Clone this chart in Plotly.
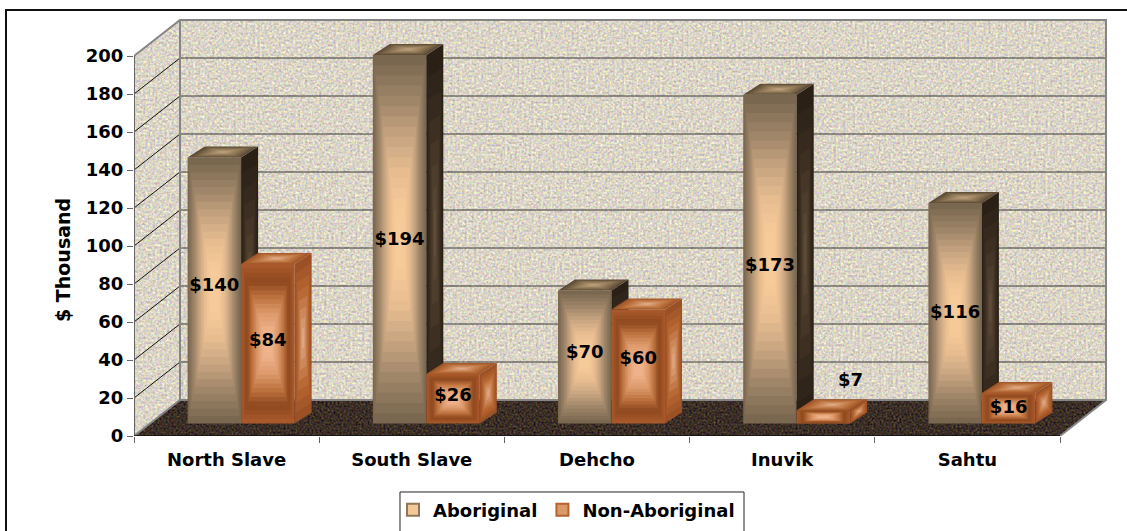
import urllib.parse
import plotly.graph_objects as go

# chart data
regions = ['North Slave', 'South Slave', 'Dehcho', 'Inuvik', 'Sahtu']
aboriginal = [140, 194, 70, 173, 116]
non_aboriginal = [84, 26, 60, 7, 16]
y_ticks = [0, 20, 40, 60, 80, 100, 120, 140, 160, 180, 200]

# how far each value label sits above its bar's middle, in $ thousand
aboriginal_nudge = [2, -0.6, 2, -3.8, 0]
non_aboriginal_nudge = [1, 1, 3.5, 18.5, 0]

# page geometry, in pixels of the 1127x531 picture
W, H = 1127, 531
LEFT, RIGHT, TOP, BOTTOM = 134, 1110, 16, 436
PX_X = 185.2   # one category
PX_Y = 1.9     # one $ thousand
DEPTH_X = 46 / PX_X
DEPTH_Y = 36 / PX_Y
BAR_BASE = 12.5 / PX_Y     # bars stand a little inside the floor
BAR_W = 53.5 / PX_X
BAR_DX = 17 / PX_X
BAR_DY = 11 / PX_Y
X0, X1 = -0.5, 4.5
FONT = 'DejaVu Sans, Arial, sans-serif'

# gradients, outer edge -> centre
AB_FRONT = ['#7a6750', '#9a8266', '#c4a27e', '#e6bc90', '#f6c998', '#f8cc9c']
AB_TOP = ['#5e4c38', '#86704f', '#a88e6c', '#c8a880']
AB_SIDE = ['#2a2016', '#3a2e20', '#503f2e', '#6a5540']
NON_FRONT = ['#a8582a', '#8e481e', '#c07440', '#dc9a6c', '#eeb088', '#f0b48c']
NON_TOP = ['#a3582a', '#bd7440', '#d39468', '#e6b89c']
NON_SIDE = ['#9c5026', '#b5652f', '#cf8c60', '#e8b498']


def mix(stops, t):
    pos = t * (len(stops) - 1)
    i = min(int(pos), len(stops) - 2)
    f = pos - i
    a = [int(stops[i][k:k + 2], 16) for k in (1, 3, 5)]
    b = [int(stops[i + 1][k:k + 2], 16) for k in (1, 3, 5)]
    return 'rgb(%d,%d,%d)' % tuple(round(p + (q - p) * f) for p, q in zip(a, b))


def polygons(corner_sets, t):
    xs, ys = [], []
    for corners in corner_sets:
        cx = sum(c[0] for c in corners) / 4
        cy = sum(c[1] for c in corners) / 4
        for px, py in corners + corners[:1]:
            xs.append(cx + (px - cx) * (1 - t))
            ys.append(cy + (py - cy) * (1 - t))
        xs.append(None)
        ys.append(None)
    return xs, ys


def add_series(fig, values, offset, front, top, side, xa, ya, layers=18):
    # side and top faces first, the front goes on as layered bars
    lefts = [i + offset for i in range(len(values))]
    top_faces, side_faces = [], []
    for l, v in zip(lefts, values):
        r = l + BAR_W
        t = BAR_BASE + v
        top_faces.append([(l, t), (r, t), (r + BAR_DX, t + BAR_DY), (l + BAR_DX, t + BAR_DY)])
        side_faces.append([(r, BAR_BASE), (r + BAR_DX, BAR_BASE + BAR_DY),
                           (r + BAR_DX, t + BAR_DY), (r, t)])
    for faces, stops in ((side_faces, side), (top_faces, top)):
        for k in range(8):
            t = k / 8
            xs, ys = polygons(faces, t)
            fig.add_trace(go.Scatter(x=xs, y=ys, mode='lines', fill='toself', line_width=0,
                                     fillcolor=mix(stops, t), xaxis=xa, yaxis=ya,
                                     hoverinfo='skip', showlegend=False))
    for k in range(layers):
        t = k / layers
        fig.add_trace(go.Bar(
            x=list(range(len(values))),
            y=[v * (1 - t) for v in values],
            base=[BAR_BASE + v * t / 2 for v in values],
            width=BAR_W * (1 - t),
            offset=offset + BAR_W * t / 2,
            marker=dict(color=mix(front, t), line_width=0),
            xaxis=xa, yaxis=ya, hoverinfo='skip', showlegend=False,
        ))


def paper(x, y):
    return (x - LEFT) / (RIGHT - LEFT), (BOTTOM - y) / (BOTTOM - TOP)


def paper_path(points):
    parts = []
    for i, (x, y) in enumerate(points):
        u, v = paper(x, y)
        parts.append(('M' if i == 0 else 'L') + '%.5f,%.5f' % (u, v))
    return ' '.join(parts)


def texture():
    # speckled wall and floor, behind everything
    dx, dy = 46, 36
    fl = BOTTOM - TOP
    wall = f'0,{fl} {dx},{fl - dy} {dx},{fl - dy - 380} {0},{fl - 380 + 0}'
    back = f'{dx},{fl - dy - 381} {dx + 926},{fl - dy - 381} {dx + 926},{fl - dy} {dx},{fl - dy}'
    floor = f'0,{fl} {dx},{fl - dy} {dx + 926},{fl - dy} 926,{fl}'
    svg = (
        f'<svg xmlns="http://www.w3.org/2000/svg" width="{RIGHT - LEFT}" height="{fl}">'
        '<filter id="w" x="0" y="0" width="1" height="1" color-interpolation-filters="sRGB">'
        '<feTurbulence type="fractalNoise" baseFrequency="0.42" numOctaves="2" seed="3"/>'
        '<feColorMatrix type="matrix" values="0.42 0.16 0 0 0.57 0.16 0.42 0 0 0.545 0.1 0.1 0.42 0 0.47 0 0 0 0 1"/>'
        '<feComposite in2="SourceGraphic" operator="in"/></filter>'
        '<filter id="f" x="0" y="0" width="1" height="1" color-interpolation-filters="sRGB">'
        '<feTurbulence type="fractalNoise" baseFrequency="0.5" numOctaves="2" seed="8"/>'
        '<feColorMatrix type="matrix" values="0.4 0.2 0 0 -0.07 0.2 0.4 0 0 -0.12 0.1 0.1 0.3 0 -0.1 0 0 0 0 1"/>'
        '<feComposite in2="SourceGraphic" operator="in"/></filter>'
        f'<polygon points="{wall}" filter="url(#w)"/>'
        f'<polygon points="{back}" filter="url(#w)"/>'
        f'<polygon points="{floor}" filter="url(#f)"/>'
        '</svg>'
    )
    return 'data:image/svg+xml;charset=utf-8,' + urllib.parse.quote(svg)


fig = go.Figure()

# back wall grid lines and wall edges
grid_x, grid_y, diag_x, diag_y = [], [], [], []
for v in y_ticks[1:-1]:
    diag_x += [X0, X0 + DEPTH_X, None]
    diag_y += [v, v + DEPTH_Y, None]
    grid_x += [X0 + DEPTH_X, X1 + DEPTH_X, None]
    grid_y += [v + DEPTH_Y, v + DEPTH_Y, None]
fig.add_trace(go.Scatter(x=grid_x, y=grid_y, mode='lines', line=dict(color='#3a3a3a', width=1),
                         hoverinfo='skip', showlegend=False))
fig.add_trace(go.Scatter(x=diag_x, y=diag_y, mode='lines', line=dict(color='#111111', width=1),
                         hoverinfo='skip', showlegend=False))
edge_x = [X0, X0 + DEPTH_X, X1 + DEPTH_X, X1 + DEPTH_X, X1, None,
          X0 + DEPTH_X, X0 + DEPTH_X, X1 + DEPTH_X, None, X0 + DEPTH_X, X0]
edge_y = [200, 200 + DEPTH_Y, 200 + DEPTH_Y, DEPTH_Y, 0, None,
          200 + DEPTH_Y, DEPTH_Y, DEPTH_Y, None, DEPTH_Y, 0]
fig.add_trace(go.Scatter(x=edge_x, y=edge_y, mode='lines', line=dict(color='#858585', width=2),
                         cliponaxis=False, hoverinfo='skip', showlegend=False))
fig.add_trace(go.Scatter(x=[X0, X0], y=[0, 200], mode='lines', line=dict(color='#666666', width=2),
                         cliponaxis=False, hoverinfo='skip', showlegend=False))
fig.add_trace(go.Scatter(x=[X0, X1], y=[0, 0], mode='lines', line=dict(color='#111111', width=1.5),
                         cliponaxis=False, hoverinfo='skip', showlegend=False))

OFF_AB = -39 / PX_X
OFF_NON = OFF_AB + BAR_W
add_series(fig, aboriginal, OFF_AB, AB_FRONT, AB_TOP, AB_SIDE, 'x2', 'y2')
add_series(fig, non_aboriginal, OFF_NON, NON_FRONT, NON_TOP, NON_SIDE, 'x3', 'y3')

# value labels
label_x, label_y, label_text = [], [], []
for i, (v, n) in enumerate(zip(aboriginal, aboriginal_nudge)):
    label_x.append(i + OFF_AB + BAR_W / 2)
    label_y.append(BAR_BASE + v / 2 + n)
    label_text.append(f'${v}')
for i, (v, n) in enumerate(zip(non_aboriginal, non_aboriginal_nudge)):
    # the smallest bar has its label moved clear of the box
    label_x.append(i + OFF_NON + BAR_W / 2 + (27 / PX_X if v < 10 else 0))
    label_y.append(BAR_BASE + v / 2 + n)
    label_text.append(f'${v}')
fig.add_trace(go.Scatter(x=label_x, y=label_y, text=label_text, mode='text',
                         textposition='middle center', xaxis='x3', yaxis='y3',
                         textfont=dict(family=FONT, size=18, color='#000000', weight='bold'),
                         cliponaxis=False, hoverinfo='skip', showlegend=False))

# legend entries only
fig.add_trace(go.Bar(x=[None], y=[None], name='Aboriginal',
                     marker=dict(color='#f4c896', line=dict(color='#8f7658', width=2))))
fig.add_trace(go.Bar(x=[None], y=[None], name='Non-Aboriginal',
                     marker=dict(color='#d99a68', line=dict(color='#b5622f', width=2))))

x_range = [X0, X0 + (RIGHT - LEFT) / PX_X]
y_range = [0, (BOTTOM - TOP) / PX_Y]
hidden = dict(range=x_range, overlaying='x', visible=False)
hidden_y = dict(range=y_range, overlaying='y', visible=False)

fig.update_layout(
    width=W, height=H,
    margin=dict(l=LEFT, r=W - RIGHT, t=TOP, b=H - BOTTOM, pad=0, autoexpand=False),
    paper_bgcolor='white', plot_bgcolor='rgba(0,0,0,0)',
    barmode='overlay',
    font=dict(family=FONT, size=18, color='#000000', weight='bold'),
    xaxis=dict(range=x_range, tickvals=list(range(len(regions))), ticktext=regions,
               showgrid=False, zeroline=False, showline=False,
               ticks='outside', ticklen=7, tickcolor='rgba(0,0,0,0)',
               minor=dict(tickvals=[X0 + i for i in range(len(regions) + 1)], ticks='outside',
                          ticklen=6, tickcolor='#666666', tickwidth=1, showgrid=False)),
    yaxis=dict(range=y_range, tickvals=y_ticks, showgrid=False, zeroline=False, showline=False,
               ticks='outside', ticklen=6, tickcolor='#666666', tickwidth=1),
    xaxis2=hidden, yaxis2=hidden_y, xaxis3=hidden, yaxis3=hidden_y,
    legend=dict(orientation='h', x=paper(393, 0)[0], y=paper(0, 510)[1], xanchor='left',
                yanchor='middle', bgcolor='rgba(0,0,0,0)', borderwidth=0,
                font=dict(family=FONT, size=18, color='#000000', weight='bold')),
    images=[dict(source=texture(), xref='paper', yref='paper', x=0, y=1, sizex=1, sizey=1,
                 xanchor='left', yanchor='top', sizing='stretch', layer='below')],
    shapes=[
        dict(type='path', xref='paper', yref='paper', line=dict(color='#111111', width=2),
             path=paper_path([(6, H + 5), (6, 10), (W + 5, 10)])),
        dict(type='path', xref='paper', yref='paper', line=dict(color='#222222', width=1),
             path=paper_path([(400, H + 5), (400, 492), (744, 492), (744, H + 5)])),
    ],
    annotations=[dict(text='$ Thousand', xref='paper', yref='paper', x=paper(63, 0)[0],
                      y=paper(0, 260)[1], textangle=-90, showarrow=False,
                      xanchor='center', yanchor='middle',
                      font=dict(family=FONT, size=19, color='#000000', weight='bold'))],
)

# the page's default body margin would push the figure off its pixels
fig.write_html("out.html", config=dict(displayModeBar=False),
               post_script="document.body.style.margin='0';")
